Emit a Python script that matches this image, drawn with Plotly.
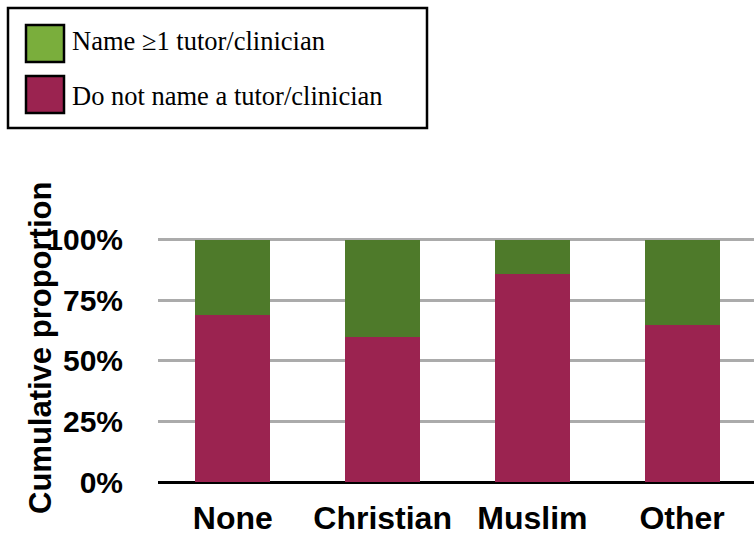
import plotly.graph_objects as go

# data
religions = ["None", "Christian", "Muslim", "Other"]
no_tutor = [0.69, 0.60, 0.86, 0.65]      # do not name a tutor/clinician
named_tutor = [0.31, 0.40, 0.14, 0.35]   # name >=1 tutor/clinician
y_ticks = [0, 0.25, 0.5, 0.75, 1.0]
y_ticklabels = ["0%", "25%", "50%", "75%", "100%"]

magenta = "#9b2350"
green = "#4e7a2a"
green_light = "#7aae3c"
W, H = 754, 533

fig = go.Figure()
fig.add_trace(go.Bar(x=religions, y=no_tutor, name="Do not name a tutor/clinician",
                     marker=dict(color=magenta, line=dict(width=0)), width=0.5))
fig.add_trace(go.Bar(x=religions, y=named_tutor, name="Name \u22651 tutor/clinician",
                     marker=dict(color=green, line=dict(width=0)), width=0.5))

# pixel -> paper helpers
px = lambda x: x / W
py = lambda y: 1 - y / H

# hand drawn legend box, like the reference
shapes = [
    dict(type="rect", xref="paper", yref="paper", x0=px(8), x1=px(427), y0=py(8), y1=py(128),
         line=dict(color="black", width=2.5), fillcolor="white"),
    dict(type="rect", xref="paper", yref="paper", x0=px(26), x1=px(64), y0=py(25), y1=py(62),
         line=dict(color="black", width=2.5), fillcolor=green_light),
    dict(type="rect", xref="paper", yref="paper", x0=px(26), x1=px(64), y0=py(76), y1=py(113),
         line=dict(color="black", width=2.5), fillcolor=magenta),
]
legend_font = dict(family="Liberation Serif, Times New Roman, serif", size=26.5, color="black")
annotations = [
    dict(text="Name \u22651 tutor/clinician", xref="paper", yref="paper", x=px(70), y=py(41),
         xanchor="left", yanchor="middle", showarrow=False, font=legend_font),
    dict(text="Do not name a tutor/clinician", xref="paper", yref="paper", x=px(70), y=py(96),
         xanchor="left", yanchor="middle", showarrow=False, font=legend_font),
    dict(text="<b>Cumulative proportion</b>", xref="paper", yref="paper", x=px(40), y=py(348),
         xanchor="center", yanchor="middle", textangle=-90, showarrow=False,
         font=dict(family="Liberation Sans, Arial, sans-serif", size=31, color="black")),
]

fig.update_layout(
    barmode="stack",
    width=W, height=H,
    margin=dict(l=0, r=0, t=0, b=0),
    plot_bgcolor="white", paper_bgcolor="white",
    showlegend=False,
    bargap=0.5,
    shapes=shapes,
    annotations=annotations,
    font=dict(family="Liberation Sans, Arial, sans-serif", color="black"),
)
fig.update_xaxes(
    domain=[px(158), 1.0],
    range=[-0.5, 3.48],
    automargin=False,
    showgrid=False,
    showline=False,
    zeroline=False,
    ticks="outside", ticklen=8, tickcolor="rgba(0,0,0,0)",
    tickfont=dict(size=32, family="Liberation Sans, Arial, sans-serif", weight="bold"),
    fixedrange=True,
)
fig.update_yaxes(
    domain=[py(482), py(238)],
    range=[0, 1.008],
    automargin=False,
    tickvals=y_ticks, ticktext=y_ticklabels,
    showgrid=True, gridcolor="#ababab", gridwidth=2.5,
    zeroline=True, zerolinecolor="black", zerolinewidth=2.5,
    showline=False,
    ticks="outside", ticklen=28, tickcolor="rgba(0,0,0,0)",
    tickfont=dict(size=30, family="Liberation Sans, Arial, sans-serif", weight="bold"),
    fixedrange=True,
)

fig.write_html("out.html", config={"displayModeBar": False},
               post_script="document.body.style.margin='0';")
